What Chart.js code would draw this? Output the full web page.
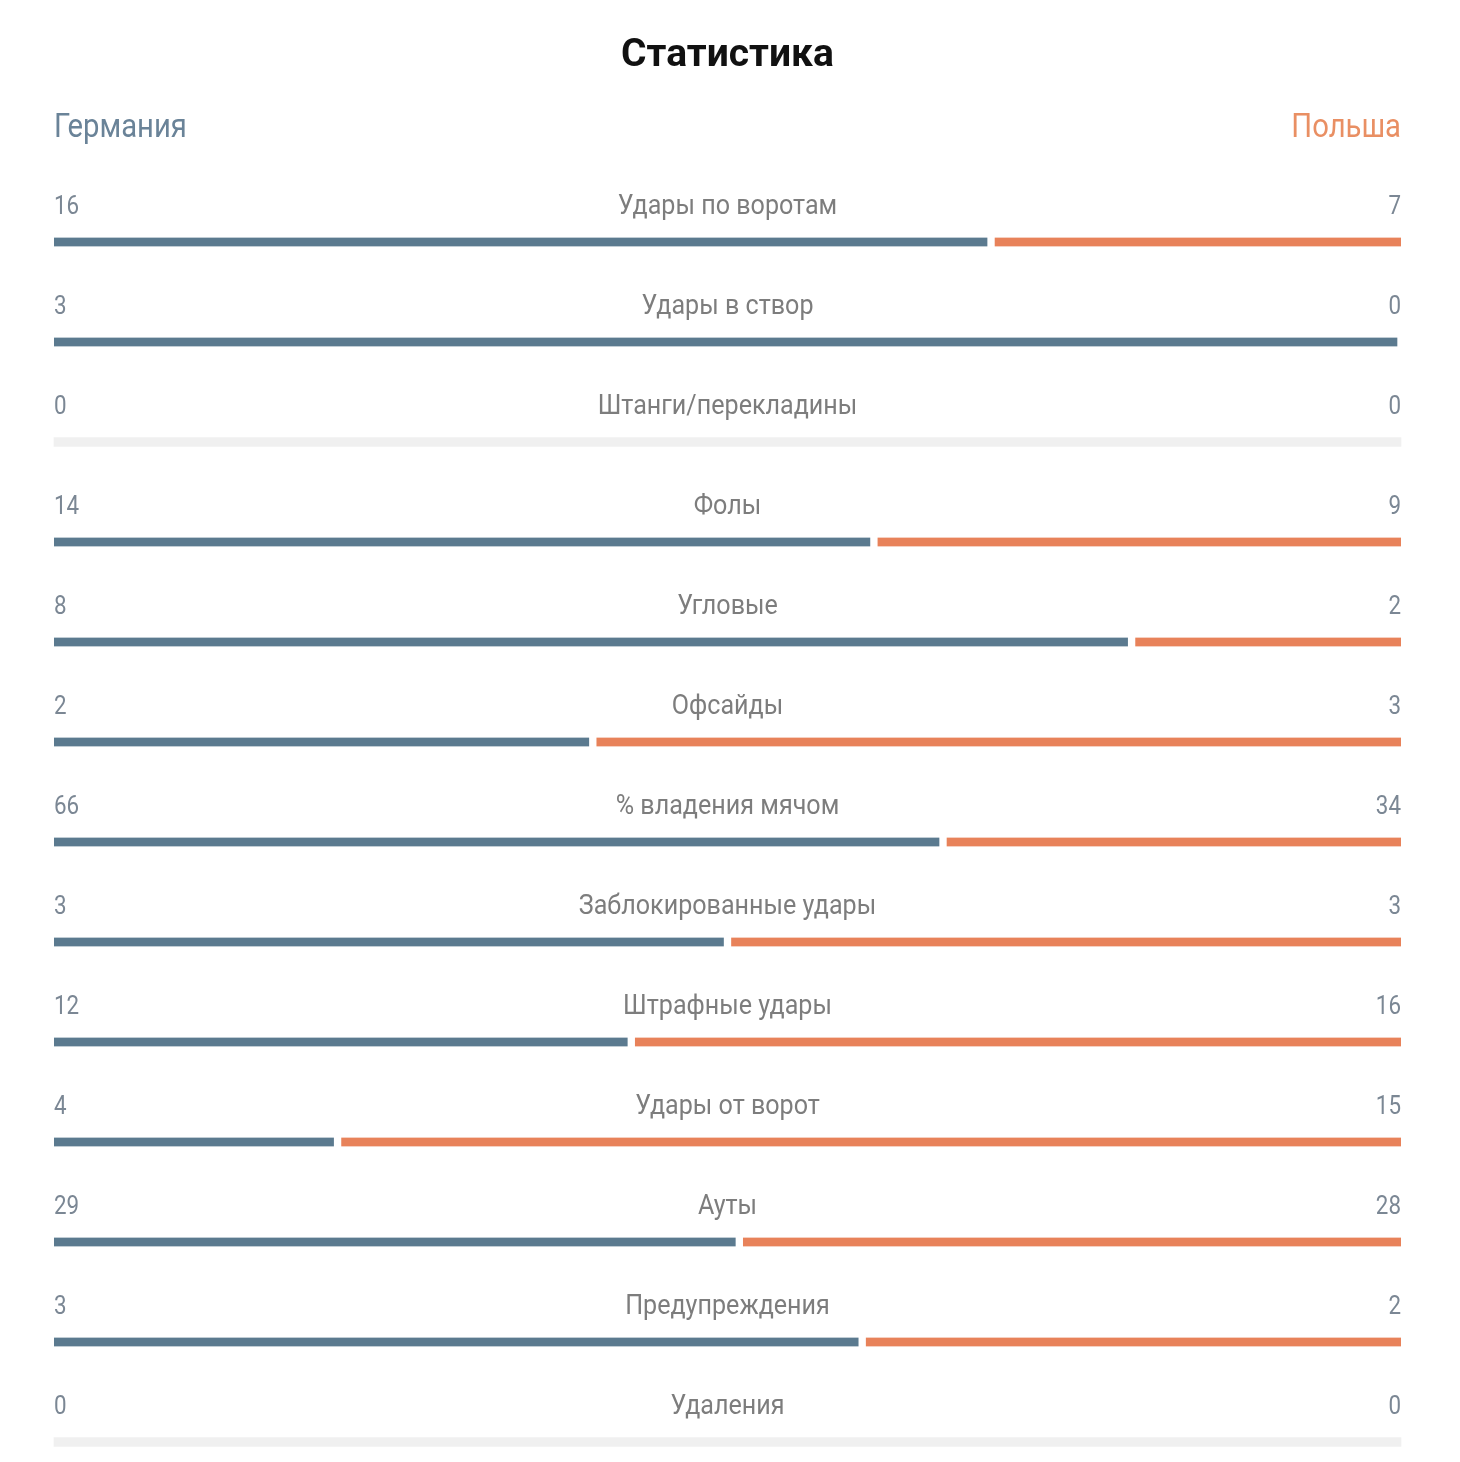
<!DOCTYPE html>
<html>
<head>
<meta charset="utf-8">
<script src="https://cdn.jsdelivr.net/npm/chart.js@4"></script>
<style>
  html, body { margin: 0; padding: 0; background: #fff; }
  #wrap { width: 1460px; height: 1462px; position: relative; }
</style>
</head>
<body>
<div id="wrap"><canvas id="statsChart"></canvas></div>
<script>
const title = "Статистика";
const homeTeam = "Германия";
const awayTeam = "Польша";

const categories = [
  "Удары по воротам", "Удары в створ", "Штанги/перекладины", "Фолы", "Угловые",
  "Офсайды", "% владения мячом", "Заблокированные удары", "Штрафные удары",
  "Удары от ворот", "Ауты", "Предупреждения", "Удаления"
];
const homeValues = [16, 3, 0, 14, 8, 2, 66, 3, 12, 4, 29, 3, 0];
const awayValues = [7, 0, 0, 9, 2, 3, 34, 3, 16, 15, 28, 2, 0];

const BLUE = "#5b7a8f";
const ORANGE = "#e8825a";
const GREY = "#f0f0f0";

// share of the home team in each row
const shares = homeValues.map((h, i) => {
  const total = h + awayValues[i];
  return total === 0 ? null : h / total;
});

const homeBars = shares.map(s => (s === null || s === 0 ? null : [0, s]));
const awayBars = shares.map(s => (s === null || s === 1 ? null : [s, 1]));
const emptyBars = shares.map(s => (s === null ? [0, 1] : null));

// squeeze the glyphs a bit to look like a condensed face
function drawText(ctx, text, x, y, align, squeeze) {
  ctx.save();
  ctx.translate(x, y);
  ctx.scale(squeeze, 1);
  ctx.textAlign = align;
  ctx.fillText(text, 0, 0);
  ctx.restore();
}

const textPlugin = {
  id: "statTexts",
  afterDraw(chart) {
    const { ctx, chartArea, scales } = chart;
    const left = chartArea.left;
    const right = chartArea.right;
    const mid = (left + right) / 2;
    ctx.save();
    ctx.textBaseline = "middle";

    ctx.fillStyle = "#111";
    ctx.font = "bold 39px Roboto";
    drawText(ctx, title, mid, 56, "center", 1);

    ctx.font = "34px Roboto";
    ctx.fillStyle = "#6a8398";
    drawText(ctx, homeTeam, left, 128, "left", 0.86);
    ctx.fillStyle = "#e98f63";
    drawText(ctx, awayTeam, right, 128, "right", 0.86);

    categories.forEach((cat, i) => {
      const y = scales.y.getPixelForValue(i) - 35;
      ctx.font = "26px Roboto";
      ctx.fillStyle = "#7b8794";
      drawText(ctx, String(homeValues[i]), left, y, "left", 0.86);
      drawText(ctx, String(awayValues[i]), right, y, "right", 0.86);
      ctx.font = "27px Roboto";
      ctx.fillStyle = "#7d7d7d";
      drawText(ctx, cat, mid, y, "center", 0.93);
    });
    ctx.restore();
  }
};

const ctx = document.getElementById("statsChart").getContext("2d");
new Chart(ctx, {
  type: "bar",
  data: {
    labels: categories,
    datasets: [
      {
        label: homeTeam,
        data: homeBars,
        backgroundColor: BLUE,
        borderColor: "#fff",
        borderWidth: { right: 4, left: 0, top: 0, bottom: 0 },
        borderSkipped: false,
        clip: false
      },
      {
        label: awayTeam,
        data: awayBars,
        backgroundColor: ORANGE,
        borderColor: "#fff",
        borderWidth: { left: 4, right: 0, top: 0, bottom: 0 },
        borderSkipped: false,
        clip: false
      },
      {
        label: "",
        data: emptyBars,
        backgroundColor: GREY,
        borderWidth: 0,
        clip: false
      }
    ]
  },
  options: {
    indexAxis: "y",
    responsive: true,
    maintainAspectRatio: false,
    animation: false,
    layout: {
      padding: { left: 54, right: 59, top: 242, bottom: 20 }
    },
    datasets: {
      bar: { grouped: false, barThickness: 9 }
    },
    scales: {
      x: { type: "linear", min: 0, max: 1, display: false },
      y: { type: "category", offset: false, display: false }
    },
    plugins: {
      legend: { display: false },
      tooltip: { enabled: false },
      title: { display: false }
    }
  },
  plugins: [textPlugin]
});
</script>
</body>
</html>
